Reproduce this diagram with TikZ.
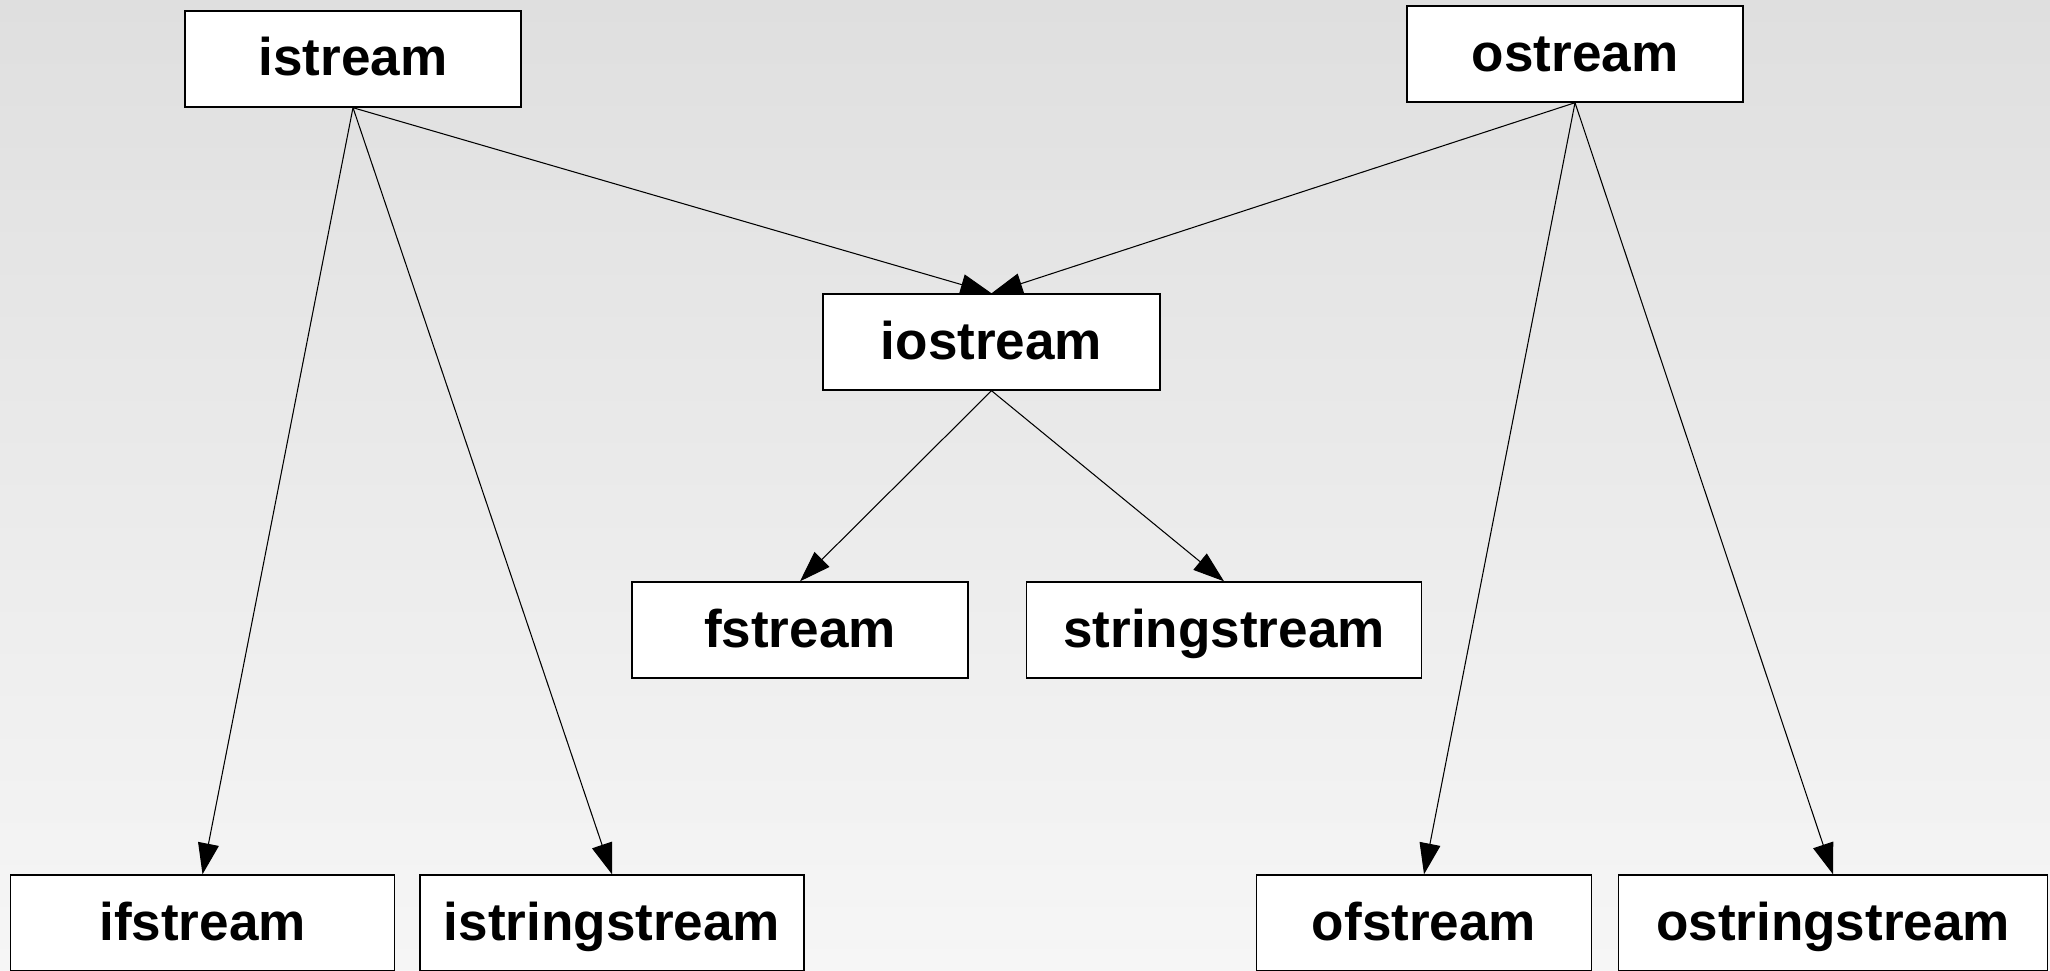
\documentclass[tikz,border=0pt]{standalone}
\usepackage{fontspec}
\setmainfont{Liberation Sans}
\usepackage{tikz}
\usetikzlibrary{arrows.meta}
\definecolor{bg_top}{RGB}{223, 223, 223}
\definecolor{bg_bot}{RGB}{246, 246, 246}
\tikzstyle{cls}=[rectangle,fill=white,draw=black,line width=0.4pt,inner sep=0pt,
  text height=0.65cm,text depth=0.31cm,minimum height=0.96cm,
  font=\fontsize{15.1pt}{18pt}\selectfont\bfseries]
\tikzstyle{inh}=[line width=0.3pt,-{Triangle[length=0.31cm,width=0.21cm]}]

\begin{document}
\begin{tikzpicture}
            \useasboundingbox (0, 0) rectangle (20.5, -9.7);
            \shade [top color=bg_top, bottom color=bg_bot] (0, 0) rectangle (20.5, -9.7);
            \node [style=cls, minimum width=3.36cm] (0) at (3.53, -0.59) {istream};
            \node [style=cls, minimum width=3.36cm] (1) at (15.75, -0.54) {ostream};
            \node [style=cls, minimum width=3.37cm] (2) at (9.915, -3.42) {iostream};
            \node [style=cls, minimum width=3.36cm] (3) at (8.0, -6.30) {fstream};
            \node [style=cls, minimum width=3.95cm] (4) at (12.24, -6.30) {stringstream};
            \node [style=cls, minimum width=3.84cm] (5) at (2.025, -9.23) {ifstream};
            \node [style=cls, minimum width=3.84cm] (6) at (6.12, -9.23) {istringstream};
            \node [style=cls, minimum width=3.355cm] (7) at (14.24, -9.23) {ofstream};
            \node [style=cls, minimum width=4.29cm] (8) at (18.33, -9.23) {ostringstream};
            \draw [style=inh] (0.south) to (2.north);
            \draw [style=inh] (1.south) to (2.north);
            \draw [style=inh] (2.south) to (3.north);
            \draw [style=inh] (2.south) to (4.north);
            \draw [style=inh] (0.south) to (5.north);
            \draw [style=inh] (0.south) to (6.north);
            \draw [style=inh] (1.south) to (7.north);
            \draw [style=inh] (1.south) to (8.north);
    \end{tikzpicture}
\end{document}
